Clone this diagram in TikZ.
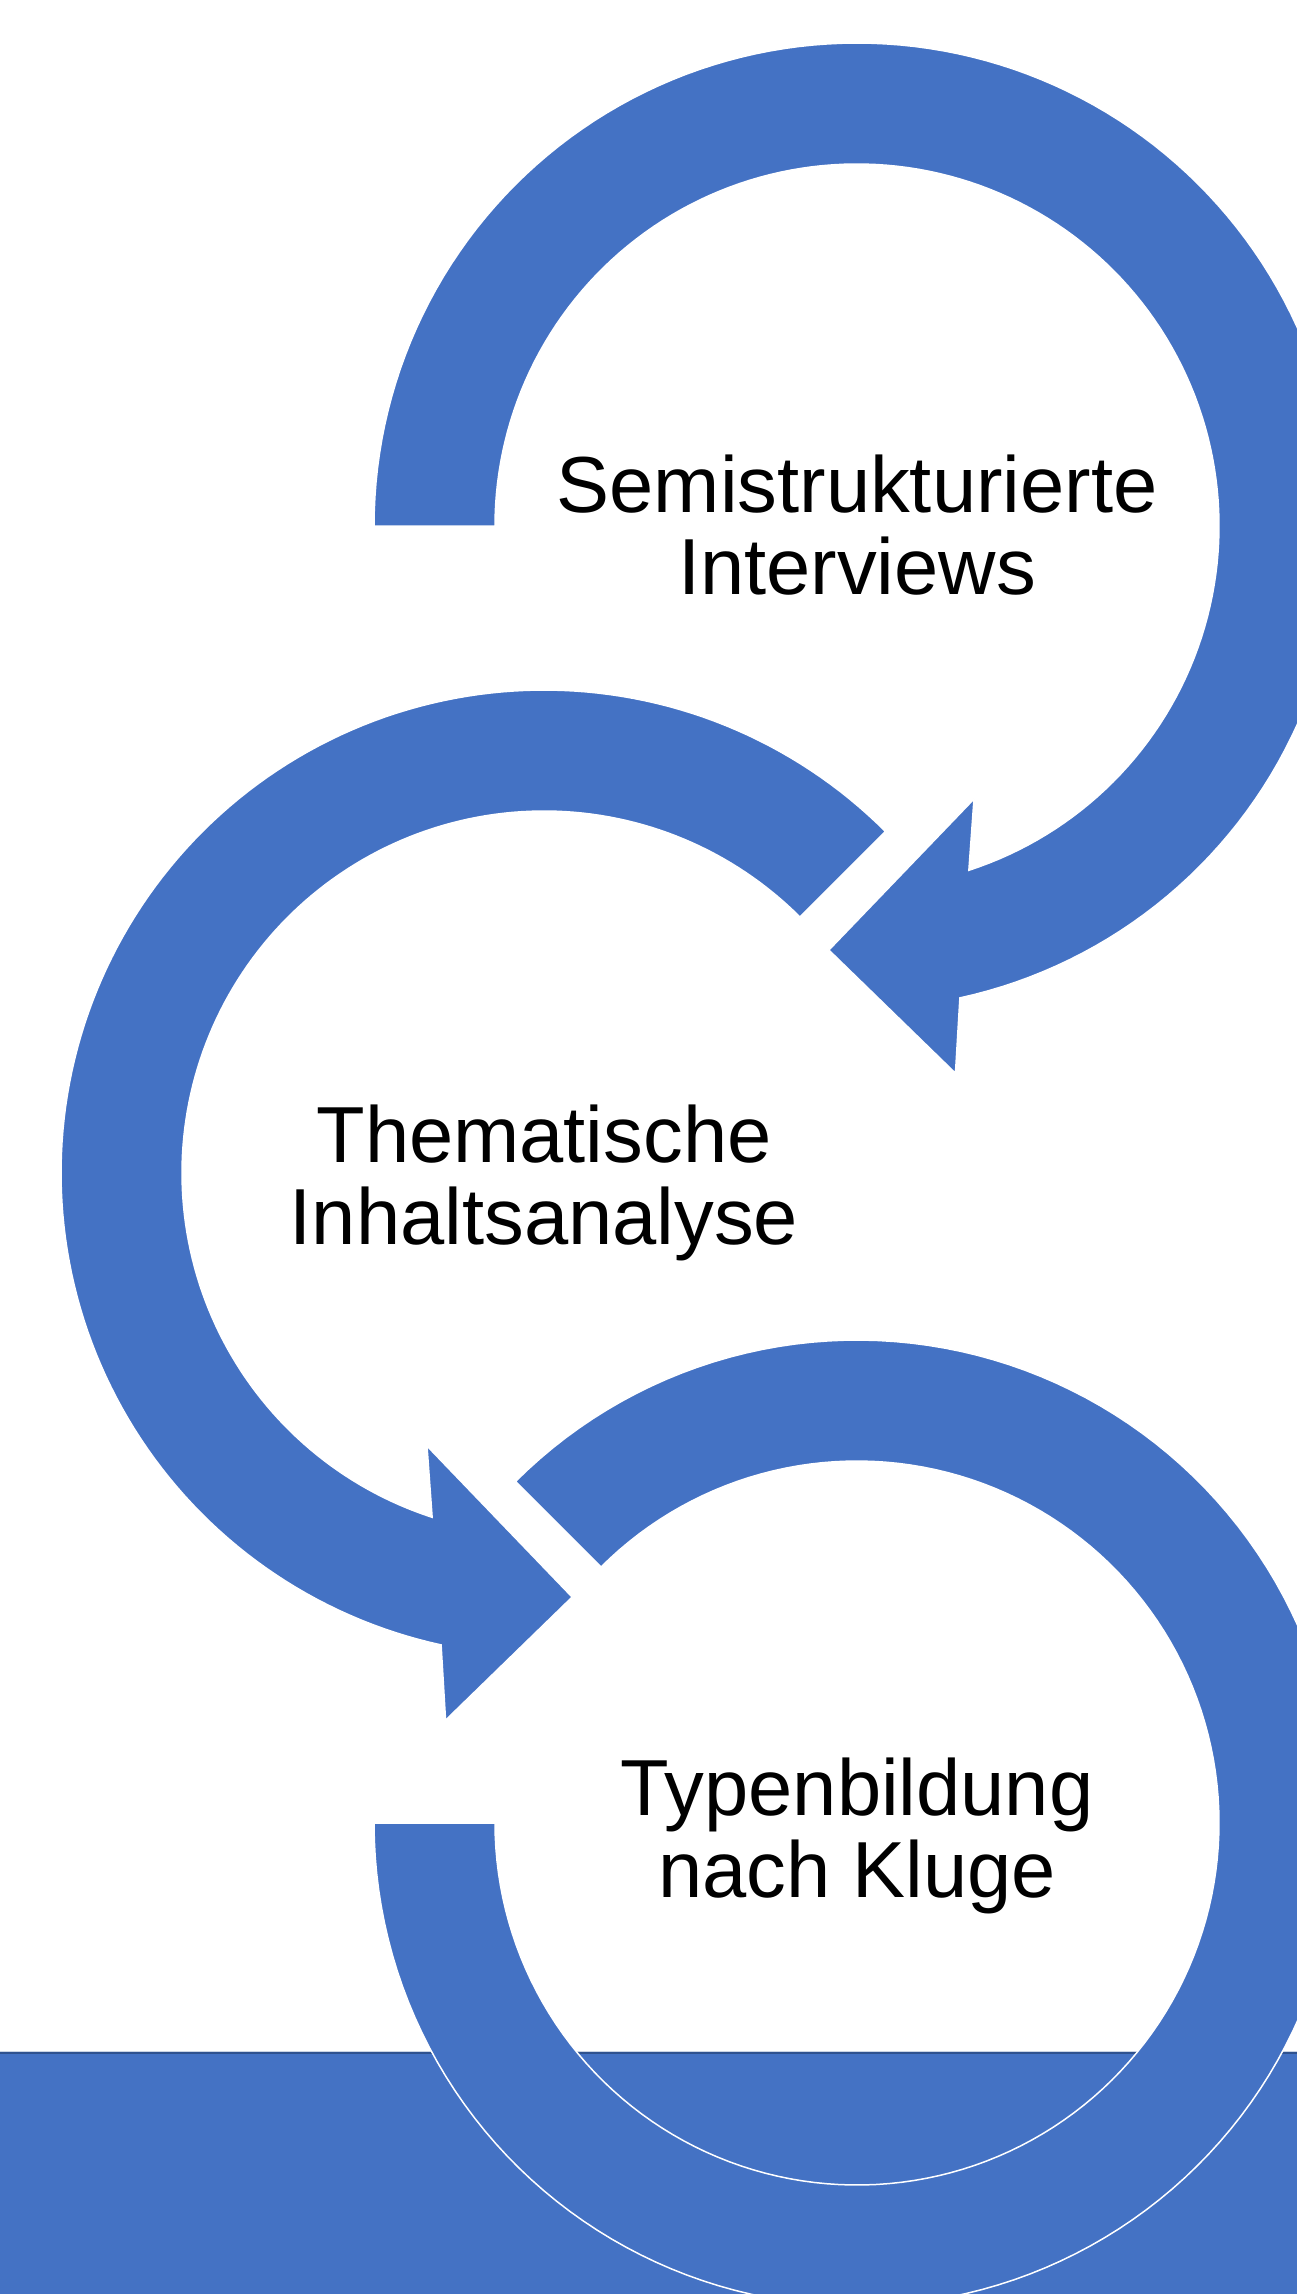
\documentclass[tikz,border=0pt]{standalone}
\usepackage{fontspec}
\setmainfont{Liberation Sans}
\definecolor{accent}{HTML}{4472C4}
\definecolor{banddark}{HTML}{2F528F}
\begin{document}
\begin{tikzpicture}[x=1pt,y=-1pt,
  ring/.style={fill=accent,draw=white,line width=1.5pt,line join=miter},
  ringtext/.style={anchor=base,inner sep=0pt,font=\fontsize{79.5}{82.5}\selectfont,text=black}]
\useasboundingbox (0,0) rectangle (1297,2294);
\clip (0,0) rectangle (1297,2294);
\fill[white] (0,0) rectangle (1297,2294);
% bottom band
\fill[accent] (0,2052) rectangle (1297,2294);
\draw[white!75!banddark, line width=1pt] (0,2051) -- (1297,2051);
\draw[banddark, line width=1.5pt] (0,2052.8) -- (1297,2052.8);
% centres
\coordinate (c1) at (857,526);
\coordinate (c2) at (544,1173);
\coordinate (c3) at (857,1823);
% arrow 1
\filldraw[ring] plot[domain=180:437.7,samples=150] ({857+483*cos(\x)},{526+483*sin(\x)})
  -- ({857+556*cos(79.8)},{526+556*sin(79.8)})
  -- ({857+425*cos(93.8)},{526+425*sin(93.8)})
  -- ({857+297*cos(66.8)},{526+297*sin(66.8)})
  -- plot[domain=432:180,samples=150] ({857+362*cos(\x)},{526+362*sin(\x)}) -- cycle;
% arrow 2
\filldraw[ring] plot[domain=315:102.3,samples=150] ({544+483*cos(\x)},{1173+483*sin(\x)})
  -- ({544+556*cos(100.2)},{1173+556*sin(100.2)})
  -- ({544+425*cos(86.2)},{1173+425*sin(86.2)})
  -- ({544+297*cos(113.2)},{1173+297*sin(113.2)})
  -- plot[domain=108:315,samples=150] ({544+362*cos(\x)},{1173+362*sin(\x)}) -- cycle;
% arrow 3
\filldraw[ring] plot[domain=225:540,samples=160] ({857+483*cos(\x)},{1823+483*sin(\x)})
  -- plot[domain=540:225,samples=160] ({857+362*cos(\x)},{1823+362*sin(\x)}) -- cycle;
% labels
\node[ringtext] (t1) at (857,512) {\begin{tabular}[t]{@{}c@{}}Semistrukturierte\\Interviews\end{tabular}};
\node[ringtext] (t2) at (544,1162) {\begin{tabular}[t]{@{}c@{}}Thematische\\Inhaltsanalyse\end{tabular}};
\node[ringtext] (t3) at (857,1815) {\begin{tabular}[t]{@{}c@{}}Typenbildung\\nach Kluge\end{tabular}};
\end{tikzpicture}
\end{document}
